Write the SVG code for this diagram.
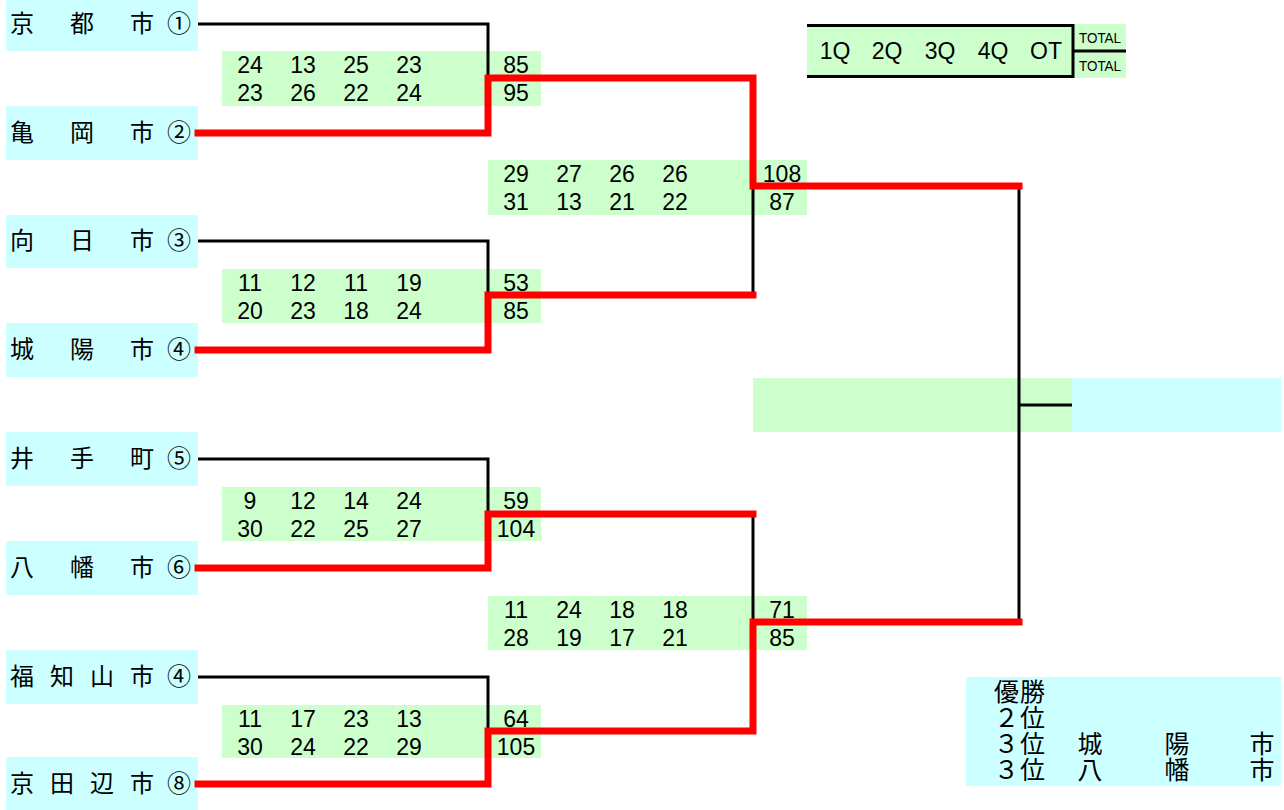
<svg xmlns="http://www.w3.org/2000/svg" width="1284" height="810" viewBox="0 0 1284 810">
<style>
.team{fill:#CCFFFF}
.score{fill:#CCFFCC}
.jp{font-family:"Noto Sans CJK JP","Noto Sans CJK SC",sans-serif;font-size:24px;fill:#000;text-anchor:middle}
.rj{font-family:"Noto Sans CJK JP","Noto Sans CJK SC",sans-serif;font-size:25px;fill:#000;letter-spacing:1px}
.rc{font-family:"Noto Sans CJK JP","Noto Sans CJK SC",sans-serif;font-size:25px;fill:#000;text-anchor:middle}
.n{font-family:"Liberation Sans",Arial,sans-serif;font-size:23px;fill:#000;text-anchor:middle}
.sm{font-family:"Liberation Sans",Arial,sans-serif;font-size:14px;fill:#000}
.bk{fill:none;stroke:#000;stroke-width:3}
.rd{fill:none;stroke:#FF0000;stroke-width:7;stroke-linejoin:miter;stroke-linecap:square}
</style>
<rect width="1284" height="810" fill="#fff"/>

<g id="team1"><rect class="team" x="6" y="0" width="192" height="51"/><text class="jp" x="22 82 142 179" y="32">京都市①</text></g>
<g id="team2"><rect class="team" x="6" y="106" width="192" height="54"/><text class="jp" x="22 82 142 179" y="141">亀岡市②</text></g>
<g id="team3"><rect class="team" x="6" y="215" width="192" height="53"/><text class="jp" x="22 82 142 179" y="249">向日市③</text></g>
<g id="team4"><rect class="team" x="6" y="323" width="192" height="54"/><text class="jp" x="22 82 142 179" y="358">城陽市④</text></g>
<g id="team5"><rect class="team" x="6" y="432" width="192" height="54"/><text class="jp" x="22 82 142 179" y="467">井手町⑤</text></g>
<g id="team6"><rect class="team" x="6" y="541" width="192" height="54"/><text class="jp" x="22 82 142 179" y="576">八幡市⑥</text></g>
<g id="team7"><rect class="team" x="6" y="650" width="192" height="54"/><text class="jp" x="22 62 102 142 179" y="685">福知山市④</text></g>
<g id="team8"><rect class="team" x="6" y="757" width="192" height="53"/><text class="jp" x="22 62 102 142 179" y="792">京田辺市⑧</text></g>

<g id="scoreA"><rect class="score" x="222" y="51" width="319" height="55"/>
<text class="n" x="250" y="73">24</text><text class="n" x="303" y="73">13</text><text class="n" x="356" y="73">25</text><text class="n" x="409" y="73">23</text><text class="n" x="516" y="73">85</text>
<text class="n" x="250" y="101">23</text><text class="n" x="303" y="101">26</text><text class="n" x="356" y="101">22</text><text class="n" x="409" y="101">24</text><text class="n" x="516" y="101">95</text></g>

<g id="scoreB"><rect class="score" x="222" y="269" width="319" height="54"/>
<text class="n" x="250" y="291">11</text><text class="n" x="303" y="291">12</text><text class="n" x="356" y="291">11</text><text class="n" x="409" y="291">19</text><text class="n" x="516" y="291">53</text>
<text class="n" x="250" y="319">20</text><text class="n" x="303" y="319">23</text><text class="n" x="356" y="319">18</text><text class="n" x="409" y="319">24</text><text class="n" x="516" y="319">85</text></g>

<g id="scoreC"><rect class="score" x="222" y="487" width="319" height="54"/>
<text class="n" x="250" y="509">9</text><text class="n" x="303" y="509">12</text><text class="n" x="356" y="509">14</text><text class="n" x="409" y="509">24</text><text class="n" x="516" y="509">59</text>
<text class="n" x="250" y="537">30</text><text class="n" x="303" y="537">22</text><text class="n" x="356" y="537">25</text><text class="n" x="409" y="537">27</text><text class="n" x="516" y="537">104</text></g>

<g id="scoreD"><rect class="score" x="222" y="705" width="319" height="53"/>
<text class="n" x="250" y="727">11</text><text class="n" x="303" y="727">17</text><text class="n" x="356" y="727">23</text><text class="n" x="409" y="727">13</text><text class="n" x="516" y="727">64</text>
<text class="n" x="250" y="755">30</text><text class="n" x="303" y="755">24</text><text class="n" x="356" y="755">22</text><text class="n" x="409" y="755">29</text><text class="n" x="516" y="755">105</text></g>

<g id="scoreE"><rect class="score" x="488" y="160" width="319" height="55"/>
<text class="n" x="516" y="182">29</text><text class="n" x="569" y="182">27</text><text class="n" x="622" y="182">26</text><text class="n" x="675" y="182">26</text><text class="n" x="782" y="182">108</text>
<text class="n" x="516" y="210">31</text><text class="n" x="569" y="210">13</text><text class="n" x="622" y="210">21</text><text class="n" x="675" y="210">22</text><text class="n" x="782" y="210">87</text></g>

<g id="scoreF"><rect class="score" x="488" y="596" width="319" height="54"/>
<text class="n" x="516" y="618">11</text><text class="n" x="569" y="618">24</text><text class="n" x="622" y="618">18</text><text class="n" x="675" y="618">18</text><text class="n" x="782" y="618">71</text>
<text class="n" x="516" y="646">28</text><text class="n" x="569" y="646">19</text><text class="n" x="622" y="646">17</text><text class="n" x="675" y="646">21</text><text class="n" x="782" y="646">85</text></g>

<g id="final"><rect class="score" x="753" y="378" width="319" height="54"/><rect class="team" x="1072" y="378" width="209" height="54"/></g>

<g id="legend">
<rect class="score" x="807" y="24" width="319" height="54"/>
<path d="M807,25.5 H1073 V76.5 H807" fill="none" stroke="#000" stroke-width="3"/>
<line x1="1073" y1="51" x2="1126" y2="51" stroke="#000" stroke-width="3"/>
<text class="n" x="835" y="59">1Q</text><text class="n" x="887" y="59">2Q</text><text class="n" x="940" y="59">3Q</text><text class="n" x="993" y="59">4Q</text><text class="n" x="1046" y="59">OT</text>
<text class="sm" x="1079" y="43" textLength="42" lengthAdjust="spacingAndGlyphs">TOTAL</text>
<text class="sm" x="1079" y="71" textLength="42" lengthAdjust="spacingAndGlyphs">TOTAL</text>
</g>

<g id="results">
<rect class="team" x="966" y="677" width="315" height="109"/>
<text class="rj" x="994" y="701">優勝</text>
<text class="rj" x="994" y="727">２位</text>
<text class="rj" x="994" y="753">３位</text>
<text class="rc" x="1090" y="753">城</text><text class="rc" x="1177" y="753">陽</text><text class="rc" x="1262" y="753">市</text>
<text class="rj" x="994" y="779">３位</text>
<text class="rc" x="1090" y="779">八</text><text class="rc" x="1177" y="779">幡</text><text class="rc" x="1262" y="779">市</text>
</g>

<g id="connectors">
<path class="bk" d="M198,24 H488 V78"/>
<path class="bk" d="M198,241 H488 V295"/>
<path class="bk" d="M753,186 V295"/>
<path class="bk" d="M198,459 H488 V514"/>
<path class="bk" d="M753,514 V622"/>
<path class="bk" d="M198,677 H488 V731"/>
<path class="bk" d="M1019,186 V622 M1019,405 H1072"/>
<path class="rd" d="M198,133 H488 V78 H753 V186 H1019"/>
<path class="rd" d="M198,350 H488 V295 H753"/>
<path class="rd" d="M198,568 H488 V514 H753"/>
<path class="rd" d="M198,784 H488 V731 H753 V622 H1019"/>
</g>
</svg>
